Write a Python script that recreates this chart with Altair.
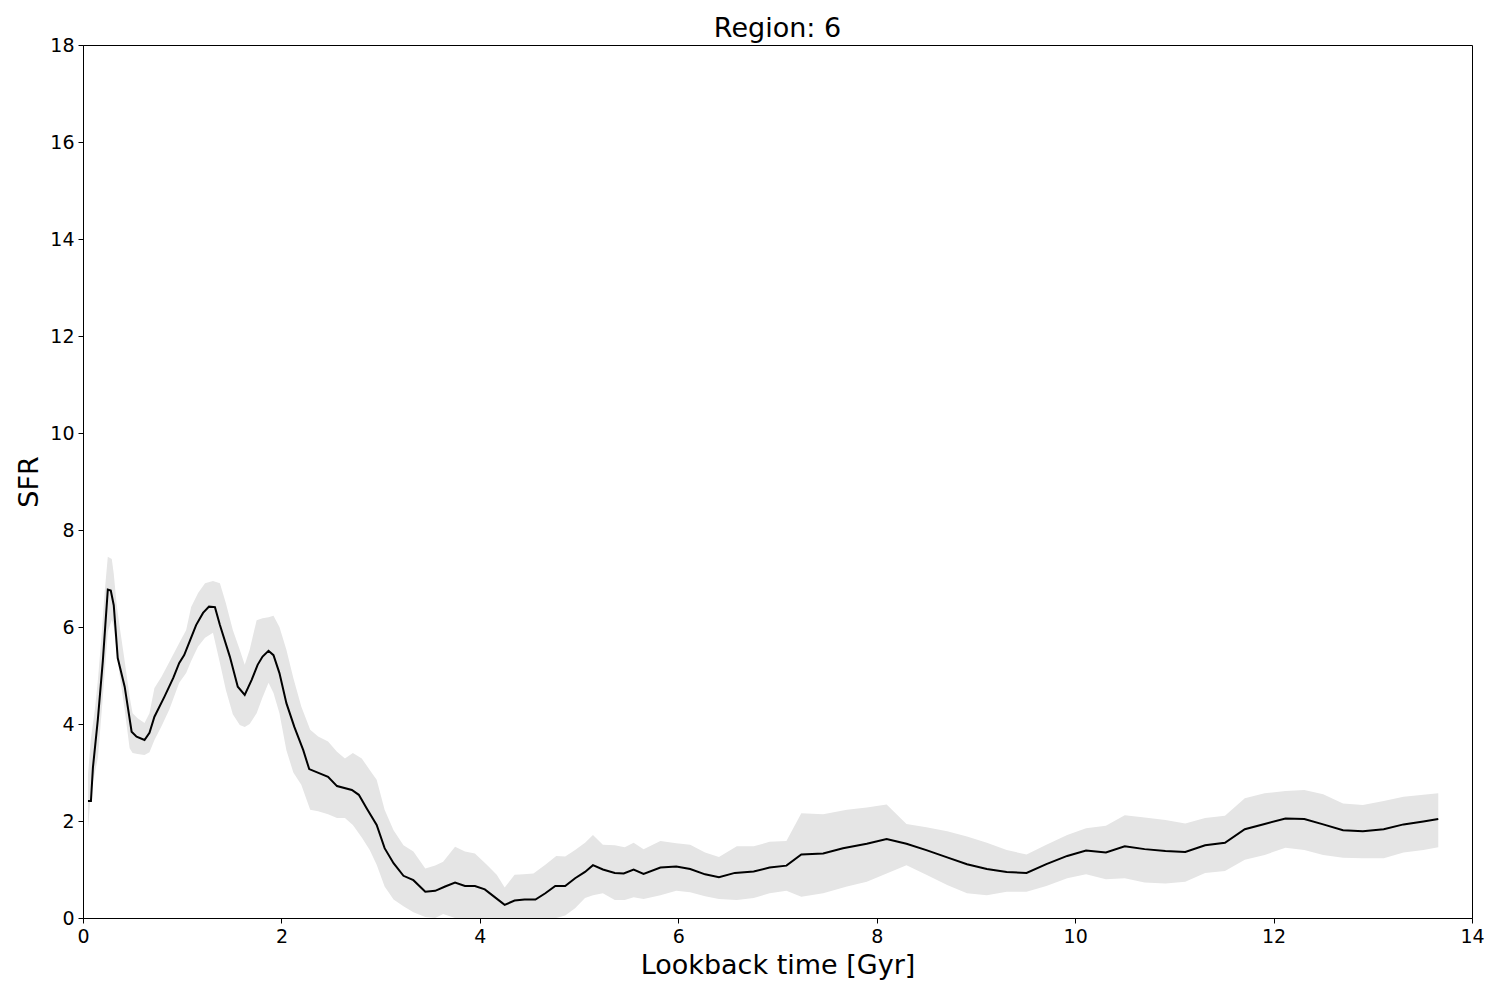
import pandas as pd
import altair as alt

# mean SFR curve
line_t = [0.05, 0.08, 0.10, 0.15, 0.20, 0.25, 0.28, 0.31, 0.35, 0.42,
          0.49, 0.54, 0.62, 0.67, 0.72, 0.82, 0.91, 0.97, 1.02, 1.08,
          1.14, 1.21, 1.27, 1.33, 1.38, 1.48, 1.56, 1.63, 1.70, 1.76,
          1.81, 1.87, 1.92, 1.98, 2.05, 2.13, 2.22, 2.28, 2.47, 2.56,
          2.71, 2.78, 2.86, 2.96, 3.04, 3.13, 3.23, 3.33, 3.45, 3.55,
          3.65, 3.75, 3.85, 3.95, 4.05, 4.15, 4.25, 4.35, 4.45, 4.56,
          4.66, 4.76, 4.86, 4.96, 5.06, 5.14, 5.24, 5.36, 5.45, 5.55,
          5.65, 5.82, 5.98, 6.12, 6.27, 6.41, 6.57, 6.76, 6.92, 7.09,
          7.24, 7.46, 7.66, 7.90, 8.10, 8.30, 8.50, 8.71, 8.91, 9.11,
          9.31, 9.51, 9.71, 9.92, 10.11, 10.31, 10.50, 10.70, 10.91, 11.11,
          11.31, 11.51, 11.71, 11.91, 12.12, 12.31, 12.50, 12.70, 12.90, 13.11,
          13.31, 13.51, 13.66]
line_sfr = [2.41, 2.41, 3.10, 4.10, 5.30, 6.77, 6.75, 6.45, 5.36, 4.77,
            3.84, 3.74, 3.67, 3.82, 4.15, 4.56, 4.95, 5.26, 5.42, 5.73,
            6.04, 6.29, 6.42, 6.41, 6.04, 5.39, 4.77, 4.60, 4.91, 5.22,
            5.39, 5.51, 5.42, 5.05, 4.43, 3.94, 3.46, 3.07, 2.91, 2.72,
            2.64, 2.54, 2.26, 1.92, 1.44, 1.13, 0.87, 0.78, 0.54, 0.56,
            0.65, 0.73, 0.66, 0.66, 0.59, 0.43, 0.27, 0.36, 0.38, 0.38,
            0.51, 0.66, 0.66, 0.82, 0.95, 1.09, 1.00, 0.93, 0.92, 1.00,
            0.91, 1.04, 1.06, 1.01, 0.90, 0.84, 0.93, 0.96, 1.04, 1.08,
            1.31, 1.33, 1.44, 1.53, 1.63, 1.53, 1.40, 1.25, 1.11, 1.01,
            0.95, 0.93, 1.11, 1.28, 1.39, 1.35, 1.48, 1.42, 1.38, 1.36,
            1.50, 1.55, 1.83, 1.94, 2.05, 2.04, 1.93, 1.81, 1.79, 1.83,
            1.93, 1.99, 2.04]

# uncertainty band
band_t = [0.05, 0.08, 0.12, 0.15, 0.19, 0.22, 0.25, 0.29, 0.31, 0.34,
          0.37, 0.42, 0.47, 0.50, 0.55, 0.62, 0.67, 0.72, 0.79, 0.87,
          0.97, 1.04, 1.09, 1.16, 1.23, 1.31, 1.38, 1.44, 1.51, 1.58,
          1.63, 1.68, 1.75, 1.81, 1.87, 1.92, 1.98, 2.05, 2.12, 2.20,
          2.29, 2.37, 2.47, 2.56, 2.64, 2.72, 2.81, 2.89, 2.96, 3.04,
          3.13, 3.23, 3.33, 3.45, 3.55, 3.63, 3.75, 3.85, 3.95, 4.07,
          4.17, 4.25, 4.35, 4.44, 4.54, 4.66, 4.77, 4.86, 4.96, 5.06,
          5.14, 5.24, 5.36, 5.46, 5.55, 5.65, 5.82, 5.98, 6.12, 6.27,
          6.41, 6.59, 6.76, 6.92, 7.09, 7.24, 7.46, 7.70, 7.90, 8.10,
          8.30, 8.50, 8.71, 8.91, 9.11, 9.31, 9.51, 9.71, 9.92, 10.11,
          10.31, 10.50, 10.70, 10.91, 11.11, 11.31, 11.51, 11.71, 11.91, 12.12,
          12.31, 12.50, 12.70, 12.90, 13.11, 13.31, 13.51, 13.66]
band_hi = [2.95, 3.70, 4.30, 4.90, 5.90, 6.76, 7.45, 7.40, 7.10, 6.45,
           6.00, 5.30, 4.56, 4.22, 4.12, 4.02, 4.22, 4.74, 4.97, 5.28,
           5.67, 5.94, 6.41, 6.70, 6.90, 6.95, 6.90, 6.49, 5.94, 5.53,
           5.22, 5.53, 6.14, 6.18, 6.20, 6.23, 6.00, 5.53, 4.95, 4.36,
           3.88, 3.74, 3.64, 3.43, 3.29, 3.40, 3.29, 3.05, 2.85, 2.23,
           1.81, 1.50, 1.37, 1.02, 1.08, 1.16, 1.47, 1.37, 1.33, 1.10,
           0.89, 0.63, 0.89, 0.90, 0.92, 1.10, 1.28, 1.27, 1.40, 1.55,
           1.71, 1.51, 1.50, 1.46, 1.55, 1.42, 1.59, 1.54, 1.51, 1.35,
           1.26, 1.48, 1.48, 1.57, 1.59, 2.16, 2.14, 2.23, 2.28, 2.34,
           1.94, 1.87, 1.79, 1.68, 1.55, 1.40, 1.31, 1.51, 1.71, 1.85,
           1.90, 2.12, 2.07, 2.02, 1.95, 2.06, 2.11, 2.47, 2.57, 2.62,
           2.64, 2.55, 2.36, 2.33, 2.41, 2.50, 2.54, 2.57]
band_lo = [1.81, 2.60, 3.00, 3.30, 4.30, 5.10, 5.90, 6.15, 6.00, 5.50,
           5.00, 4.30, 3.50, 3.40, 3.38, 3.36, 3.42, 3.67, 3.95, 4.30,
           4.85, 5.05, 5.30, 5.60, 5.78, 5.88, 5.26, 4.70, 4.20, 3.98,
           3.94, 4.00, 4.22, 4.55, 4.85, 4.64, 4.22, 3.46, 3.00, 2.75,
           2.23, 2.20, 2.14, 2.06, 2.06, 1.92, 1.66, 1.40, 1.10, 0.65,
           0.38, 0.24, 0.12, 0.02, 0.00, 0.08, 0.00, 0.00, 0.00, 0.00,
           0.00, 0.00, 0.00, 0.00, 0.00, 0.00, 0.00, 0.05, 0.20, 0.41,
           0.47, 0.51, 0.37, 0.37, 0.43, 0.39, 0.47, 0.56, 0.53, 0.45,
           0.39, 0.37, 0.41, 0.51, 0.56, 0.44, 0.51, 0.65, 0.75, 0.92,
           1.09, 0.89, 0.68, 0.51, 0.47, 0.54, 0.54, 0.66, 0.82, 0.90,
           0.80, 0.82, 0.73, 0.71, 0.75, 0.93, 0.97, 1.20, 1.30, 1.45,
           1.40, 1.30, 1.24, 1.23, 1.23, 1.35, 1.40, 1.46]

x_ticks = [0, 2, 4, 6, 8, 10, 12, 14]
y_ticks = [0, 2, 4, 6, 8, 10, 12, 14, 16, 18]

line_df = pd.DataFrame({'t': line_t, 'sfr': line_sfr})
band_df = pd.DataFrame({'t': band_t, 'lo': band_lo, 'hi': band_hi})

FONT = 'DejaVu Sans'

x_scale = alt.Scale(domain=[0, 14], nice=False, zero=False)
y_scale = alt.Scale(domain=[0, 18], nice=False)

band = alt.Chart(band_df).mark_area(color='#e5e5e5', opacity=1, clip=True).encode(
    x=alt.X('t:Q', scale=x_scale,
            axis=alt.Axis(values=x_ticks, format='d', title='Lookback time [Gyr]')),
    y=alt.Y('lo:Q', scale=y_scale,
            axis=alt.Axis(values=y_ticks, format='d', title='SFR')),
    y2='hi:Q',
)

line = alt.Chart(line_df).mark_line(color='black', strokeWidth=2, clip=True).encode(
    x=alt.X('t:Q', scale=x_scale),
    y=alt.Y('sfr:Q', scale=y_scale),
)

chart = alt.layer(band, line).properties(
    width=1389,
    height=873,
    autosize=alt.AutoSizeParams(type='none'),
    padding={'left': 75, 'top': 37, 'right': 20, 'bottom': 70},
    title=alt.Title('Region: 6', font=FONT, fontSize=27, fontWeight='normal',
                    color='black', frame='group', offset=5, dy=12),
).configure_view(
    stroke='black', strokeWidth=1
).configure_axis(
    grid=False,
    domainColor='black',
    tickColor='black',
    tickSize=5,
    labelFont=FONT,
    labelFontSize=19,
    labelColor='black',
    labelPadding=4,
    labelFlush=False,
    labelOverlap=False,
    titleFont=FONT,
    titleFontSize=27,
    titleFontWeight='normal',
    titleColor='black',
    titlePadding=6,
)

chart.save('out.html', embed_options={'renderer': 'svg', 'actions': False})
